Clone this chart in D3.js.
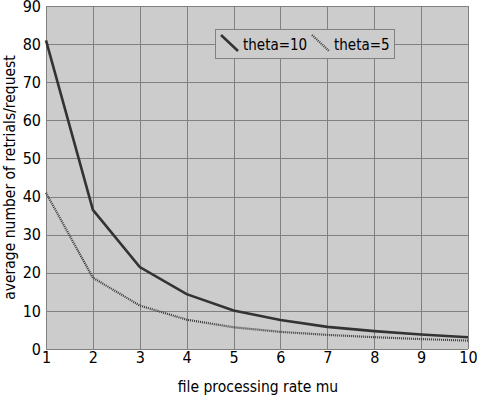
<!DOCTYPE html>
<html>
<head>
<meta charset="utf-8">
<script src="https://cdn.jsdelivr.net/npm/d3@7"></script>
<style>
  body { margin: 0; background: #fff; }
  text { font-family: "DejaVu Sans Condensed", "DejaVu Sans", sans-serif; fill: #000; }
</style>
</head>
<body>
<svg id="chart" width="477" height="397"></svg>
<script>
// data
var mu = [1, 2, 3, 4, 5, 6, 7, 8, 9, 10]
var theta10 = [81, 36.5, 21.5, 14.4, 10.1, 7.6, 5.8, 4.7, 3.8, 3.1]
var theta5 = [41, 18.7, 11.4, 7.7, 5.7, 4.5, 3.7, 3.1, 2.6, 2.2]
var yTicks = [0, 10, 20, 30, 40, 50, 60, 70, 80, 90]
var seriesNames = ["theta=10", "theta=5"]

var svg = d3.select("#chart")
var pl = 46, pr = 468, pt = 6, pb = 349
var fontName = "DejaVu Sans Condensed"

var x = d3.scaleLinear().domain([1, 10]).range([pl, pr])
var y = d3.scaleLinear().domain([0, 90]).range([pb, pt])

// plot background
svg.append("rect")
    .attr("x", pl).attr("y", pt)
    .attr("width", pr - pl).attr("height", pb - pt)
    .attr("fill", "#cccccc")

// grid
svg.append("g").selectAll("line")
    .data(mu)
    .join("line")
    .attr("x1", function(d) { return Math.round(x(d)) + 0.5 })
    .attr("x2", function(d) { return Math.round(x(d)) + 0.5 })
    .attr("y1", pt).attr("y2", pb)
    .attr("stroke", "#808080").attr("stroke-width", 1)

svg.append("g").selectAll("line")
    .data(yTicks)
    .join("line")
    .attr("x1", pl).attr("x2", pr)
    .attr("y1", function(d) { return Math.round(y(d)) + 0.5 })
    .attr("y2", function(d) { return Math.round(y(d)) + 0.5 })
    .attr("stroke", "#808080").attr("stroke-width", 1)

// axes (labels only)
var xAxis = svg.append("g")
    .attr("transform", "translate(0," + pb + ")")
    .call(d3.axisBottom(x).tickValues(mu).tickSize(0).tickPadding(3))
xAxis.select(".domain").remove()
xAxis.selectAll("text").attr("font-size", 16).attr("font-family", fontName).attr("fill", "#000")

var yAxis = svg.append("g")
    .attr("transform", "translate(" + pl + ",0)")
    .call(d3.axisLeft(y).tickValues(yTicks).tickSize(0).tickPadding(5))
yAxis.select(".domain").remove()
yAxis.selectAll("text").attr("font-size", 16).attr("font-family", fontName).attr("fill", "#000")

// titles
svg.append("text")
    .attr("x", (pl + pr) / 2 + 1).attr("y", 392)
    .attr("text-anchor", "middle")
    .attr("font-size", 15.5)
    .text("file processing rate mu")

svg.append("text")
    .attr("transform", "translate(15," + (pt + pb) / 2 + ") rotate(-90)")
    .attr("text-anchor", "middle")
    .attr("font-size", 15.5)
    .text("average number of retrials/request")

// lines
var line = d3.line()
    .x(function(d, i) { return x(mu[i]) })
    .y(function(d) { return y(d) })

svg.append("path")
    .datum(theta5)
    .attr("d", line)
    .attr("fill", "none")
    .attr("stroke", "#3a3a3a")
    .attr("stroke-width", 2.2)
    .attr("stroke-dasharray", "1,1")

svg.append("path")
    .datum(theta10)
    .attr("d", line)
    .attr("fill", "none")
    .attr("stroke", "#333")
    .attr("stroke-width", 2.6)

// legend
var lg = svg.append("g")
lg.append("rect")
    .attr("x", 215.5).attr("y", 29.5)
    .attr("width", 179).attr("height", 29)
    .attr("fill", "#cccccc").attr("stroke", "#808080")

var legendX = [221, 312]
seriesNames.forEach(function(name, i) {
    lg.append("line")
        .attr("x1", legendX[i]).attr("y1", 35)
        .attr("x2", legendX[i] + 17).attr("y2", 51)
        .attr("stroke", i == 0 ? "#333" : "#3a3a3a")
        .attr("stroke-width", i == 0 ? 2.6 : 2.2)
        .attr("stroke-dasharray", i == 0 ? null : "1,1")
    lg.append("text")
        .attr("x", legendX[i] + 22).attr("y", 50)
        .attr("font-size", 15)
        .text(name)
})
</script>
</body>
</html>
